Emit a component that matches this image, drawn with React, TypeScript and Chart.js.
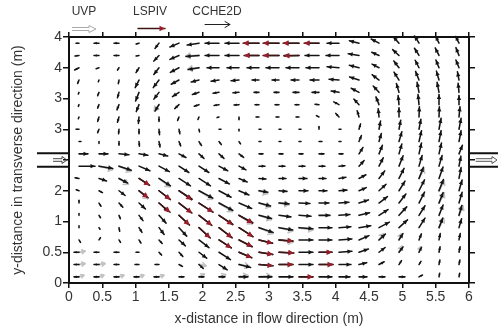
import { useEffect, useRef } from "react";
import { Chart, registerables } from "chart.js";

Chart.register(...registerables);

// ---------------- data ----------------
const X_POS = [0.15, 0.45, 0.75, 1.05, 1.35, 1.65, 1.95, 2.25, 2.55, 2.85, 3.15, 3.45, 3.75, 4.05, 4.35, 4.65, 4.95, 5.25, 5.55, 5.85];
const Y_POS = [3.9, 3.7, 3.5, 3.3, 3.1, 2.9, 2.7, 2.5, 2.3, 2.1, 1.9, 1.7, 1.5, 1.3, 1.1, 0.9, 0.7, 0.5, 0.3, 0.1];

const X_TICK_LABELS = ["0", "0.5", "1", "1.5", "2", "2.5", "3", "3.5", "4", "4.5", "5", "5.5", "6"];
const Y_TICK_LABELS = ["0", "0.5", "1", "2", "", "3", "3", "4", "4"];

// CCHE2D speed (cm/s), rows from top (y=3.9) to bottom (y=0.1)
const CCHE_SPEED: number[][] = [
  [3, 5, 5, 3, 7, 10, 12, 14, 14, 15, 15, 15, 14, 12, 10, 9, 9, 9, 8, 8],
  [4, 5, 5, 3, 8, 10, 13, 14, 14, 14, 15, 15, 14, 13, 11, 8, 9, 9, 9, 9],
  [5, 3, 3, 6, 9, 10, 11, 12, 12, 12, 13, 13, 13, 12, 10, 8, 9, 9, 9, 9],
  [4, 2, 4, 9, 10, 9, 8, 8, 8, 7, 7, 8, 9, 10, 10, 9, 10, 10, 10, 9],
  [2, 4, 6, 10, 9, 8, 7, 6, 6, 5, 5, 6, 7, 8, 9, 9, 10, 11, 11, 10],
  [2, 4, 6, 8, 8, 6, 5, 5, 5, 4, 4, 4, 4, 6, 8, 9, 10, 11, 11, 10],
  [2, 5, 6, 7, 5, 4, 3, 2, 3, 3, 3, 3, 3, 5, 7, 9, 10, 11, 11, 11],
  [3, 4, 5, 5, 6, 5, 3, 2, 2, 2, 2, 2, 3, 2, 6, 9, 10, 11, 12, 12],
  [2, 2, 4, 5, 6, 5, 5, 4, 3, 2, 2, 2, 3, 2, 7, 9, 11, 12, 12, 12],
  [9, 9, 10, 9, 9, 8, 7, 7, 6, 4, 4, 4, 5, 4, 8, 10, 11, 12, 12, 10],
  [16, 14, 13, 12, 12, 12, 12, 10, 8, 6, 6, 6, 6, 6, 8, 10, 12, 12, 12, 11],
  [4, 8, 10, 12, 14, 14, 14, 12, 9, 7, 7, 8, 7, 7, 8, 10, 12, 13, 13, 12],
  [3, 4, 8, 11, 14, 16, 16, 14, 11, 9, 8, 9, 8, 8, 8, 10, 12, 13, 13, 12],
  [3, 4, 6, 9, 13, 16, 17, 16, 14, 12, 10, 11, 10, 10, 10, 11, 12, 13, 12, 12],
  [2, 3, 4, 7, 11, 14, 16, 17, 16, 13, 12, 12, 11, 11, 11, 11, 12, 12, 12, 11],
  [2, 2, 4, 6, 9, 12, 15, 17, 17, 15, 14, 14, 13, 12, 12, 12, 12, 12, 11, 10],
  [3, 3, 3, 4, 5, 9, 13, 15, 15, 14, 14, 14, 13, 13, 11, 9, 8, 7, 7, 7],
  [5, 5, 5, 3, 4, 6, 10, 14, 14, 14, 14, 14, 13, 13, 10, 8, 7, 6, 6, 6],
  [5, 5, 5, 4, 4, 4, 6, 10, 12, 14, 14, 14, 14, 12, 8, 6, 5, 4, 5, 5],
  [5, 5, 5, 5, 5, 5, 5, 6, 9, 13, 14, 14, 13, 11, 8, 6, 6, 4, 4, 4],
];

// CCHE2D direction (degrees, 0 = +x, 90 = +y)
const CCHE_DIR: number[][] = [
  [180, 180, 180, 200, 235, 205, 190, 180, 180, 180, 180, 180, 180, 180, 165, 150, 130, 120, 115, 115],
  [190, 180, 180, 190, 230, 205, 185, 180, 180, 180, 180, 180, 180, 180, 170, 155, 135, 120, 115, 110],
  [210, 200, 240, 240, 235, 210, 190, 180, 180, 180, 180, 180, 180, 175, 165, 150, 125, 115, 110, 110],
  [250, 250, 260, 245, 235, 210, 195, 190, 185, 180, 180, 180, 180, 175, 160, 140, 120, 110, 105, 100],
  [250, 250, 255, 250, 235, 215, 200, 190, 185, 180, 180, 180, 180, 170, 150, 130, 105, 100, 100, 95],
  [250, 250, 250, 250, 240, 225, 200, 190, 185, 180, 180, 180, 175, 150, 130, 110, 95, 95, 90, 90],
  [250, 255, 255, 265, 270, 250, 250, 200, 270, 180, 180, 180, 150, 130, 105, 95, 90, 88, 88, 85],
  [180, 250, 265, 270, 275, 280, 280, 0, 270, 0, 0, 0, 90, 0, 75, 80, 80, 80, 80, 80],
  [0, 270, 270, 275, 280, 290, 300, 305, 300, 0, 0, 0, 0, 0, 70, 75, 75, 78, 80, 80],
  [0, 0, -5, -10, -15, -30, -45, -45, -40, 0, 0, 0, 0, 0, 60, 70, 75, 78, 78, 70],
  [0, -10, -20, -25, -30, -35, -35, -30, -30, 0, 0, 0, 0, 5, 50, 65, 70, 75, 75, 80],
  [170, -20, -30, -35, -35, -35, -35, -30, -25, -5, 0, 0, 0, 10, 30, 55, 65, 70, 72, 80],
  [160, -30, -40, -40, -40, -35, -30, -30, -25, -10, -5, 0, 0, 5, 25, 45, 60, 65, 70, 75],
  [90, -60, -50, -45, -45, -40, -35, -30, -25, -15, -5, -3, 0, 5, 20, 40, 55, 65, 70, 75],
  [90, -60, -70, -55, -50, -45, -40, -35, -30, -15, -8, -5, 0, 5, 15, 35, 50, 60, 70, 75],
  [90, -60, -80, -60, -55, -50, -45, -40, -35, -20, -10, -5, 0, 5, 10, 30, 45, 60, 70, 75],
  [-60, 60, -60, -60, -50, -45, -40, -35, -30, -15, -5, 0, 0, 5, 25, 45, 60, 70, 80, 80],
  [180, 180, 180, 180, -50, -50, -40, -35, -25, -10, -3, 0, 0, 5, 20, 40, 55, 65, 80, 80],
  [180, 180, 180, 180, 180, -30, -45, -35, -15, -5, 0, 0, 0, 0, 15, 30, 60, 60, 80, 80],
  [180, 180, 180, 180, 180, 0, 0, 0, 0, 0, 0, 0, 0, 0, 0, 0, 0, 30, 80, 80],
];

// LSPIV vectors
const LSPIV_X = [2.85, 3.15, 3.45, 3.75, 2.85, 3.15, 3.45, 1.05, 1.05, 1.35, 1.65, 1.35, 1.65, 1.95, 1.65, 1.95, 2.25, 2.55, 1.95, 2.25, 2.55, 2.25, 2.55, 2.85, 3.15, 2.55, 2.85, 3.15, 3.75, 2.85, 3.15, 3.75, 3.45];
const LSPIV_Y = [3.9, 3.9, 3.9, 3.9, 3.7, 3.7, 3.7, 1.7, 1.5, 1.5, 1.5, 1.3, 1.3, 1.3, 1.1, 1.1, 1.1, 1.1, 0.9, 0.9, 0.9, 0.7, 0.7, 0.7, 0.7, 0.5, 0.5, 0.5, 0.5, 0.3, 0.3, 0.3, 0.1];
const LSPIV_SPEED = [16, 16, 16, 15, 15, 16, 15, 13, 12, 15, 16, 15, 17, 17, 15, 17, 17, 16, 16, 17, 17, 15, 15, 14, 14, 14, 14, 15, 13, 14, 14, 14, 14];
const LSPIV_DIR = [180, 180, 180, 180, 180, 180, 182, -35, -40, -40, -38, -42, -40, -35, -45, -40, -37, -32, -45, -40, -35, -35, -28, -15, -5, -25, -10, -3, 0, -5, 0, 0, 0];

// UVP vectors
const UVP_X = [1.95, 1.95, 1.35, 0.45, 0.75, 0.75, 1.35, 1.05, 1.95, 2.85, 2.25, 2.85, 3.15, 2.55, 2.85, 2.85, 3.15, 3.45, 3.15, 4.65, 4.95, 4.95, 5.25, 0.15, 0.15, 0.45, 1.95, 2.55, 0.15, 0.45, 0.75, 1.05, 1.35, 1.95, 2.25, 2.55, 2.85, 5.25, 5.55, 5.55, 5.85, 5.55];
const UVP_Y = [3.7, 3.5, 2.9, 1.9, 1.9, 1.7, 1.7, 1.5, 1.5, 1.5, 1.3, 1.3, 1.3, 1.1, 1.1, 0.9, 0.9, 0.9, 0.7, 0.7, 0.7, 0.5, 0.5, 0.5, 0.3, 0.3, 0.3, 0.3, 0.1, 0.1, 0.1, 0.1, 0.1, 0.1, 0.1, 0.1, 0.1, 1.7, 1.5, 1.3, 1.1, 0.9];
const UVP_SPEED = [13, 11, 8, 14, 13, 11, 14, 12, 16, 9, 16, 12, 10, 16, 13, 15, 14, 14, 14, 8, 7, 7, 6, 6, 6, 6, 7, 10, 5, 5, 5, 5, 5, 6, 7, 9, 12, 12, 12, 12, 11, 11];
const UVP_DIR = [183, 188, 235, -15, -25, -35, -40, -45, -35, -20, -35, -20, -10, -35, -20, -25, -15, -10, -10, 55, 70, 65, 75, 10, 10, 10, -10, -10, 20, 20, 20, 20, 20, 30, 20, 10, 5, 65, 65, 65, 70, 65];

const ARROW_SCALE = 1.5; // metres of arrow per m/s

// ---------------- helpers ----------------
type Vec = { x: number; y: number; u: number; v: number };

function toVectors(xs: number[], ys: number[], sp: number[], dir: number[]): Vec[] {
  return xs.map((x, i) => {
    const s = sp[i] / 100;
    const a = (dir[i] * Math.PI) / 180;
    return { x, y: ys[i], u: s * Math.cos(a), v: s * Math.sin(a) };
  });
}

function gridVectors(): Vec[] {
  const out: Vec[] = [];
  Y_POS.forEach((y, r) => {
    X_POS.forEach((x, c) => {
      const s = CCHE_SPEED[r][c] / 100;
      const a = (CCHE_DIR[r][c] * Math.PI) / 180;
      out.push({ x, y, u: s * Math.cos(a), v: s * Math.sin(a) });
    });
  });
  return out;
}

function headPts(x1: number, y1: number, x2: number, y2: number, len: number, half: number) {
  const a = Math.atan2(y2 - y1, x2 - x1);
  const bx = x2 - len * Math.cos(a);
  const by = y2 - len * Math.sin(a);
  return [
    [x2, y2],
    [bx + half * Math.sin(a), by - half * Math.cos(a)],
    [bx - half * Math.sin(a), by + half * Math.cos(a)],
  ];
}

function drawArrow(ctx: CanvasRenderingContext2D, x1: number, y1: number, x2: number, y2: number, style: string) {
  const L = Math.hypot(x2 - x1, y2 - y1);
  ctx.lineCap = "round";
  ctx.lineJoin = "round";
  if (style === "uvp") {
    ctx.strokeStyle = "#c2c2c2";
    ctx.lineWidth = 2;
    ctx.beginPath();
    ctx.moveTo(x1, y1);
    ctx.lineTo(x2, y2);
    ctx.stroke();
    const hl = Math.min(4, L * 0.5);
    const p = headPts(x1, y1, x2, y2, hl, hl * 0.7);
    ctx.lineWidth = 1.5;
    ctx.beginPath();
    ctx.moveTo(p[1][0], p[1][1]);
    ctx.lineTo(p[0][0], p[0][1]);
    ctx.lineTo(p[2][0], p[2][1]);
    ctx.stroke();
    return;
  }
  if (style === "lspiv") {
    ctx.strokeStyle = "#3e1414";
    ctx.lineWidth = 1.4;
    ctx.beginPath();
    ctx.moveTo(x1, y1);
    ctx.lineTo(x2, y2);
    ctx.stroke();
    const hl = Math.min(5.5, L * 0.5);
    const p = headPts(x1, y1, x2, y2, hl, hl * 0.52);
    ctx.fillStyle = "#9c1c2a";
    ctx.beginPath();
    ctx.moveTo(p[0][0], p[0][1]);
    ctx.lineTo(p[1][0], p[1][1]);
    ctx.lineTo(p[2][0], p[2][1]);
    ctx.closePath();
    ctx.fill();
    return;
  }
  // cche2d
  ctx.strokeStyle = "#141414";
  ctx.fillStyle = "#141414";
  ctx.lineWidth = 1.55;
  ctx.beginPath();
  ctx.moveTo(x1, y1);
  ctx.lineTo(x2, y2);
  ctx.stroke();
  if (L > 2.5) {
    const hl = Math.min(4.5, L * 0.55);
    const p = headPts(x1, y1, x2, y2, hl, hl * 0.48);
    ctx.beginPath();
    ctx.moveTo(p[0][0], p[0][1]);
    ctx.lineTo(p[1][0], p[1][1]);
    ctx.lineTo(p[2][0], p[2][1]);
    ctx.closePath();
    ctx.fill();
  }
}

function hollowArrow(ctx: CanvasRenderingContext2D, x1: number, x2: number, y: number, halfShaft: number, headLen: number, halfHead: number, color: string, lw: number) {
  ctx.strokeStyle = color;
  ctx.lineWidth = lw;
  ctx.beginPath();
  ctx.moveTo(x1, y - halfShaft);
  ctx.lineTo(x2 - headLen, y - halfShaft);
  ctx.lineTo(x2 - headLen, y - halfHead);
  ctx.lineTo(x2, y);
  ctx.lineTo(x2 - headLen, y + halfHead);
  ctx.lineTo(x2 - headLen, y + halfShaft);
  ctx.lineTo(x1, y + halfShaft);
  ctx.stroke();
}

const arrowPlugin = {
  id: "arrowField",
  afterDatasetsDraw(chart: any) {
    const ctx: CanvasRenderingContext2D = chart.ctx;
    const xs = chart.scales.x;
    const ys = chart.scales.y;
    ctx.save();
    chart.data.datasets.forEach((ds: any) => {
      ds.data.forEach((p: Vec) => {
        const x1 = xs.getPixelForValue(p.x);
        const y1 = ys.getPixelForValue(p.y);
        const x2 = xs.getPixelForValue(p.x + p.u * ARROW_SCALE);
        const y2 = ys.getPixelForValue(p.y + p.v * ARROW_SCALE);
        drawArrow(ctx, x1, y1, x2, y2, ds.arrowStyle);
      });
    });
    ctx.restore();
  },
  afterDraw(chart: any) {
    const ctx: CanvasRenderingContext2D = chart.ctx;
    const xs = chart.scales.x;
    const ys = chart.scales.y;
    const area = chart.chartArea;
    ctx.save();
    // inlet & outlet channels
    const yA = ys.getPixelForValue(2.11);
    const yB = ys.getPixelForValue(1.89);
    const yC = ys.getPixelForValue(2.0);
    ctx.strokeStyle = "#111";
    ctx.lineWidth = 2;
    ctx.beginPath();
    ctx.moveTo(xs.getPixelForValue(-0.48), yA);
    ctx.lineTo(area.left, yA);
    ctx.moveTo(xs.getPixelForValue(-0.48), yB);
    ctx.lineTo(area.left, yB);
    ctx.moveTo(area.right, yA);
    ctx.lineTo(xs.getPixelForValue(6.45), yA);
    ctx.moveTo(area.right, yB);
    ctx.lineTo(xs.getPixelForValue(6.45), yB);
    ctx.stroke();
    hollowArrow(ctx, xs.getPixelForValue(-0.24), xs.getPixelForValue(-0.03), yC, 1.3, 5, 3.5, "#444", 1);
    hollowArrow(ctx, xs.getPixelForValue(6.1), xs.getPixelForValue(6.42), yC, 1.3, 5, 3.5, "#555", 1);

    // legend
    ctx.font = "12px 'Liberation Sans', Arial, sans-serif";
    ctx.fillStyle = "#333";
    ctx.textAlign = "center";
    ctx.textBaseline = "middle";
    ctx.fillText("UVP", 84, 12);
    ctx.fillText("LSPIV", 150, 12);
    ctx.fillText("CCHE2D", 217, 12);
    hollowArrow(ctx, 72, 96, 29, 1.5, 7, 3.5, "#a9a9a9", 1);
    drawArrow(ctx, 138, 28.5, 165, 28.5, "lspiv");
    ctx.strokeStyle = "#222";
    ctx.lineWidth = 1;
    ctx.beginPath();
    ctx.moveTo(205, 24.5);
    ctx.lineTo(230, 24.5);
    ctx.moveTo(225, 21.5);
    ctx.lineTo(230, 24.5);
    ctx.lineTo(225, 27.5);
    ctx.stroke();
    ctx.restore();
  },
};

const FONT = "'Liberation Sans', Arial, Helvetica, sans-serif";

export default function App() {
  const ref = useRef<HTMLCanvasElement>(null);
  useEffect(() => {
    if (!ref.current) return;
    Chart.defaults.font.family = FONT;
    const axisCommon = {
      type: "linear" as const,
      grid: { drawOnChartArea: false, drawTicks: true, color: "#111", lineWidth: 1.5 },
      border: { display: true, color: "#111", width: 2 },
    };
    const chart = new Chart(ref.current, {
      type: "scatter",
      data: {
        datasets: [
          { label: "UVP", data: toVectors(UVP_X, UVP_Y, UVP_SPEED, UVP_DIR), pointRadius: 0, arrowStyle: "uvp" } as any,
          { label: "CCHE2D", data: gridVectors(), pointRadius: 0, arrowStyle: "cche" } as any,
          { label: "LSPIV", data: toVectors(LSPIV_X, LSPIV_Y, LSPIV_SPEED, LSPIV_DIR), pointRadius: 0, arrowStyle: "lspiv" } as any,
        ],
      },
      options: {
        responsive: false,
        animation: false,
        events: [],
        layout: { padding: 0 },
        plugins: { legend: { display: false }, tooltip: { enabled: false }, title: { display: false } },
        scales: {
          x: {
            ...axisCommon,
            position: "bottom",
            min: 0,
            max: 6,
            grid: { ...axisCommon.grid, tickLength: 5 },
            ticks: {
              stepSize: 0.5,
              autoSkip: false,
              maxRotation: 0,
              padding: 1,
              color: "#333",
              font: { size: 14 },
              callback: (v: any) => X_TICK_LABELS[Math.round(Number(v) * 2)] ?? "",
            },
            title: { display: true, text: "x-distance in flow direction (m)", color: "#333", font: { size: 14 }, padding: { top: 0, bottom: 2.6 } },
            afterFit: (s: any) => { s.height = 47; },
          },
          xTop: {
            ...axisCommon,
            position: "top",
            min: 0,
            max: 6,
            grid: { ...axisCommon.grid, tickLength: 5 },
            ticks: { stepSize: 0.5, display: false },
            afterFit: (s: any) => { s.height = 37; },
          },
          y: {
            ...axisCommon,
            position: "left",
            min: 0,
            max: 4,
            grid: { ...axisCommon.grid, tickLength: 6 },
            ticks: {
              stepSize: 0.5,
              autoSkip: false,
              padding: 1,
              color: "#333",
              font: { size: 14 },
              callback: (v: any) => Y_TICK_LABELS[Math.round(Number(v) * 2)] ?? "",
            },
            title: { display: true, text: "y-distance in transverse direction (m)", color: "#333", font: { size: 14 }, padding: { top: 9.6, bottom: 0 } },
            afterFit: (s: any) => { s.width = 69; },
          },
          yRight: {
            ...axisCommon,
            position: "right",
            min: 0,
            max: 4,
            grid: { ...axisCommon.grid, tickLength: 6 },
            ticks: { stepSize: 0.5, display: false },
            afterFit: (s: any) => { s.width = 29; },
          },
        } as any,
      },
      plugins: [arrowPlugin],
    });
    return () => chart.destroy();
  }, []);
  return (
    <div style={{ position: "absolute", left: 0, top: 0, width: 498, height: 330, background: "#fff" }}>
      <canvas ref={ref} width={498} height={330} style={{ display: "block", width: 498, height: 330 }} />
    </div>
  );
}
